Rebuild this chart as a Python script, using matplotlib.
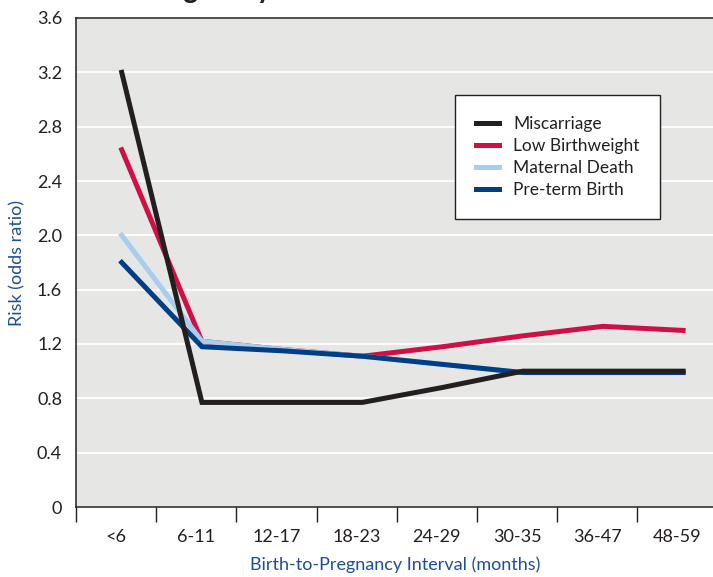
import numpy as np
import matplotlib.pyplot as plt

# data
intervals = ['<6', '6-11', '12-17', '18-23', '24-29', '30-35', '36-47', '48-59']
miscarriage = [3.2, 0.77, 0.77, 0.77, 0.88, 1.0, 1.0, 1.0]
low_birthweight = [2.63, 1.22, 1.16, 1.11, 1.18, 1.26, 1.33, 1.30]
maternal_death = [2.0, 1.22, 1.16, 1.11, 1.05, 0.99, 0.99, 0.99]
preterm_birth = [1.8, 1.18, 1.15, 1.11, 1.05, 0.99, 0.99, 0.99]
yticks = [0, 0.4, 0.8, 1.2, 1.6, 2.0, 2.4, 2.8, 3.2, 3.6]
ytick_labels = ['0', '0.4', '0.8', '1.2', '1.6', '2.0', '2.4', '2.8', '3.2', '3.6']

plt.rcParams['font.family'] = ['Lato', 'DejaVu Sans']

fig = plt.figure(figsize=(7.13, 5.77), dpi=100)
ax = fig.add_axes([76 / 713, 1 - 507 / 577, 637 / 713, 489 / 577])
ax.set_facecolor('#e6e7e5')

x = np.arange(len(intervals)) + 0.57
lw = 3.6
ax.plot(x, maternal_death, color='#a8cdee', lw=lw, label='Maternal Death', zorder=3, solid_joinstyle='miter')
ax.plot(x, low_birthweight, color='#d01044', lw=lw, label='Low Birthweight', zorder=2, solid_joinstyle='miter')
ax.plot(x, preterm_birth, color='#003e85', lw=lw, label='Pre-term Birth', zorder=4, solid_joinstyle='miter')
ax.plot(x, miscarriage, color='#231f20', lw=lw, label='Miscarriage', zorder=5, solid_joinstyle='miter')

ax.set_xlim(0, 637 / 80.2)
ax.set_ylim(0, 3.6)
ax.set_yticks(yticks)
ax.set_yticklabels(ytick_labels)
ax.tick_params(axis='y', length=0, pad=10, labelsize=13, colors='#231f20')
ax.yaxis.grid(True, color='white', lw=1.3)
ax.set_axisbelow(True)

ax.set_xticks(np.arange(len(intervals)))
ax.set_xticklabels([])
ax.set_xticks(np.arange(len(intervals)) + 0.5, minor=True)
ax.set_xticklabels(intervals, minor=True)
ax.tick_params(axis='x', which='major', length=11, width=1, color='#231f20')
ax.tick_params(axis='x', which='minor', length=0, pad=16, labelsize=13, colors='#231f20')

for side in ['left', 'bottom', 'top']:
    ax.spines[side].set_color('#231f20')
    ax.spines[side].set_linewidth(1.1)
ax.spines['right'].set_visible(False)

ax.set_ylabel('Risk (odds ratio)', color='#1d4f96', fontsize=13, labelpad=8)
ax.set_xlabel('Birth-to-Pregnancy Interval (months)', color='#1d4f96', fontsize=13)
ax.xaxis.set_label_coords((395 - 76) / 637, -(556 - 507) / 489)

handles, labels = ax.get_legend_handles_labels()
order = [3, 1, 0, 2]
leg = ax.legend([handles[i] for i in order], [labels[i] for i in order],
                loc='upper left', bbox_to_anchor=((455 - 76) / 637, 1 - (95 - 18) / 489),
                frameon=True, fancybox=False, edgecolor='#231f20', facecolor='white',
                fontsize=12.5, handlelength=1.35, handletextpad=0.8, labelspacing=0.35,
                borderpad=1.2, borderaxespad=0)
leg.get_frame().set_linewidth(1.0)
leg.get_frame().set_alpha(1)
for t in leg.get_texts():
    t.set_color('#231f20')

# title mostly cut off at the top of the picture
fig.text(272 / 713, 1 + 2 / 577, 'Pregnancy', ha='right', va='baseline',
         fontsize=20, fontweight='bold', color='#231f20')

fig.savefig('out.png', dpi=100)
